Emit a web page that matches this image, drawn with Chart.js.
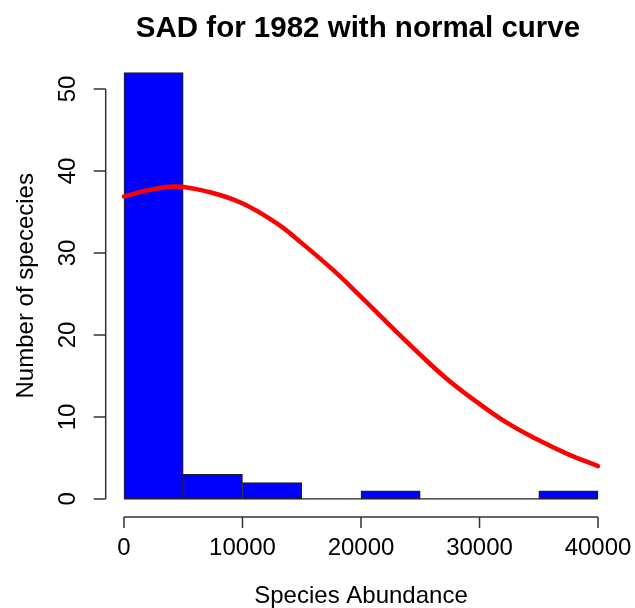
<!DOCTYPE html>
<html>
<head>
<meta charset="utf-8">
<title>SAD for 1982 with normal curve</title>
<script src="https://cdn.jsdelivr.net/npm/chart.js@4/dist/chart.umd.min.js"></script>
<style>
  html, body { margin: 0; padding: 0; background: #fff; }
  canvas { display: block; }
</style>
</head>
<body>
<canvas id="sad" width="635" height="608"></canvas>
<script>
// Histogram bins (midpoints) and species counts per 5000-wide bin
const binMids = [2500, 7500, 12500, 17500, 22500, 27500, 32500, 37500];
const binCounts = [52, 3, 2, 0, 1, 0, 0, 1];

// Fitted normal curve, scaled to counts
const curveX = [0, 2200, 4450, 7260, 10070, 12900, 15000, 17660, 19900, 22200, 24700, 27200, 29800, 32300, 34800, 37400, 40000];
const curveY = [36.9, 37.7, 38.1, 37.4, 36.0, 33.6, 31.2, 27.9, 24.8, 21.5, 18.0, 14.7, 11.8, 9.3, 7.3, 5.5, 4.0];

// Axis ticks
const xTicks = [0, 10000, 20000, 30000, 40000];
const yTicks = [0, 10, 20, 30, 40, 50];

const titleText = 'SAD for 1982 with normal curve';
const xTitle = 'Species Abundance';
const yTitle = 'Number of spececies';

const FONT = '"Liberation Sans", Arial, Helvetica, sans-serif';

// Base-graphics style axes: lines spanning first to last tick, outward ticks
const baseAxes = {
  id: 'baseAxes',
  beforeDatasetsDraw(chart) {
    const { ctx, scales: { x, y } } = chart;
    // zero-height bins still show their bottom edge
    ctx.save();
    ctx.strokeStyle = '#222';
    ctx.lineWidth = 1.2;
    ctx.beginPath();
    const y0 = y.getPixelForValue(0);
    ctx.moveTo(x.getPixelForValue(0), y0);
    ctx.lineTo(x.getPixelForValue(40000), y0);
    ctx.stroke();
    ctx.restore();
  },
  afterDraw(chart) {
    const { ctx, chartArea: a, scales: { x, y } } = chart;
    ctx.save();
    ctx.strokeStyle = '#333';
    ctx.lineWidth = 1.5;
    ctx.fillStyle = '#000';

    // x axis
    const ax = a.bottom + 1;
    ctx.beginPath();
    ctx.moveTo(x.getPixelForValue(xTicks[0]), ax);
    ctx.lineTo(x.getPixelForValue(xTicks[xTicks.length - 1]), ax);
    xTicks.forEach(v => {
      const px = x.getPixelForValue(v);
      ctx.moveTo(px, ax);
      ctx.lineTo(px, ax + 11);
    });
    ctx.stroke();

    ctx.font = '24px ' + FONT;
    ctx.textAlign = 'center';
    ctx.textBaseline = 'alphabetic';
    xTicks.forEach(v => {
      ctx.fillText(String(v), x.getPixelForValue(v), a.bottom + 39);
    });
    ctx.fillText(xTitle, (a.left + a.right) / 2, a.bottom + 87);

    // y axis
    const ay = a.left + 0.7;
    ctx.beginPath();
    ctx.moveTo(ay, y.getPixelForValue(yTicks[0]));
    ctx.lineTo(ay, y.getPixelForValue(yTicks[yTicks.length - 1]));
    yTicks.forEach(v => {
      const py = y.getPixelForValue(v);
      ctx.moveTo(ay, py);
      ctx.lineTo(ay - 12, py);
    });
    ctx.stroke();

    yTicks.forEach(v => {
      ctx.save();
      ctx.translate(a.left - 30, y.getPixelForValue(v));
      ctx.rotate(-Math.PI / 2);
      ctx.fillText(String(v), 0, 0);
      ctx.restore();
    });
    ctx.save();
    ctx.translate(a.left - 72, (a.top + a.bottom) / 2);
    ctx.rotate(-Math.PI / 2);
    ctx.fillText(yTitle, 0, 0);
    ctx.restore();

    // main title
    ctx.font = 'bold 29.5px ' + FONT;
    ctx.fillText(titleText, (a.left + a.right) / 2 - 3, 37);
    ctx.restore();
  }
};

new Chart(document.getElementById('sad'), {
  type: 'bar',
  data: {
    datasets: [
      {
        type: 'line',
        order: 0,
        data: curveX.map((v, i) => ({ x: v, y: curveY[i] })),
        borderColor: '#ff0000',
        borderWidth: 4.5,
        pointRadius: 0,
        fill: false,
        tension: 0.4,
        borderCapStyle: 'round',
        borderJoinStyle: 'round'
      },
      {
        type: 'bar',
        order: 1,
        data: binMids.map((v, i) => ({ x: v, y: binCounts[i] })),
        backgroundColor: '#0000ff',
        borderColor: '#222',
        borderWidth: 1.2,
        borderSkipped: false,
        barPercentage: 1,
        categoryPercentage: 1
      }
    ]
  },
  options: {
    responsive: false,
    animation: false,
    events: [],
    layout: { padding: { left: 105, right: 18, top: 55.5, bottom: 92 } },
    plugins: {
      legend: { display: false },
      tooltip: { enabled: false },
      title: { display: false }
    },
    scales: {
      x: {
        type: 'linear',
        display: false,
        offset: false,
        min: -1600,
        max: 41600,
        afterBuildTicks(scale) {
          scale.ticks = xTicks.map(v => ({ value: v }));
        }
      },
      y: {
        type: 'linear',
        display: false,
        min: -2.08,
        max: 54.08
      }
    }
  },
  plugins: [baseAxes]
});
</script>
</body>
</html>
